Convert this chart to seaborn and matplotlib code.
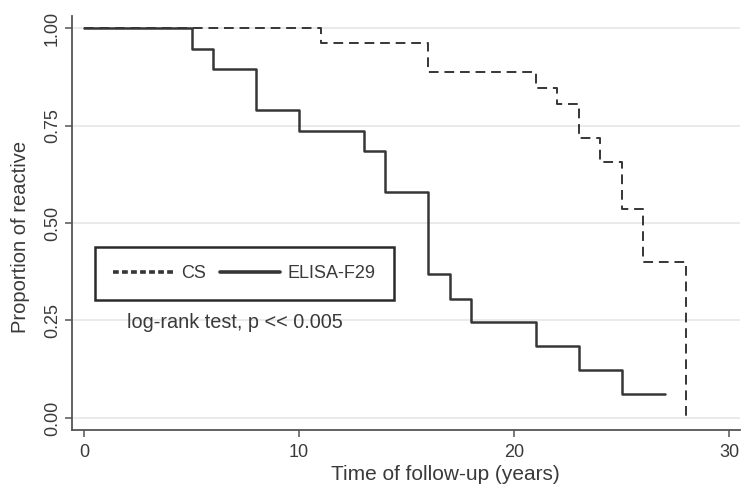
import matplotlib
matplotlib.use("Agg")
import matplotlib.pyplot as plt
import seaborn as sns
import pandas as pd

# Kaplan-Meier step data
elisa_time = [0, 5, 6, 8, 10, 13, 14, 16, 17, 18, 21, 23, 25, 27]
elisa_surv = [1.0, 0.947, 0.895, 0.789, 0.737, 0.684, 0.579, 0.368, 0.306, 0.245, 0.184, 0.122, 0.061, 0.061]
cs_time = [0, 11, 16, 21, 22, 23, 24, 25, 26, 28]
cs_surv = [1.0, 0.963, 0.888, 0.846, 0.804, 0.718, 0.656, 0.535, 0.40, 0.0]

x_ticks = [0, 10, 20, 30]
y_ticks = [0.00, 0.25, 0.50, 0.75, 1.00]
y_tick_labels = ["0.00", "0.25", "0.50", "0.75", "1.00"]

sns.set_theme(style="white")
plt.rcParams["font.family"] = ["Liberation Sans", "DejaVu Sans"]

W, H = 753, 490
fig = plt.figure(figsize=(W / 100, H / 100), dpi=100)
fig.patch.set_facecolor("white")
ax = fig.add_axes([72 / W, 1 - 430 / H, (740 - 72) / W, (430 - 16) / H])

df_cs = pd.DataFrame({"time": cs_time, "surv": cs_surv})
df_el = pd.DataFrame({"time": elisa_time, "surv": elisa_surv})

line_color = "#363636"
sns.lineplot(data=df_cs, x="time", y="surv", ax=ax, estimator=None, sort=False,
             drawstyle="steps-post", color=line_color, linewidth=1.4,
             linestyle=(0, (5.0, 3.0)), label="CS")
sns.lineplot(data=df_el, x="time", y="surv", ax=ax, estimator=None, sort=False,
             drawstyle="steps-post", color=line_color, linewidth=1.8,
             label="ELISA-F29")

ax.set_xlim(-0.56, 30.5)
ax.set_ylim(-0.031, 1.031)
ax.set_xticks(x_ticks)
ax.set_yticks(y_ticks)
ax.set_yticklabels(y_tick_labels, rotation=90, va="center")
for y in y_ticks:
    ax.axhline(y, color="#e6e6e6", linewidth=1.2, zorder=0)

for s in ["top", "right"]:
    ax.spines[s].set_visible(False)
for s in ["left", "bottom"]:
    ax.spines[s].set_color("#555555")
    ax.spines[s].set_linewidth(1.3)
ax.tick_params(axis="both", which="major", direction="out", length=5, width=1.1,
               color="#555555", labelsize=13, labelcolor="#3a3a3a", left=True, bottom=True)
ax.tick_params(axis="y", pad=3)
ax.tick_params(axis="x", pad=5)

ax.set_xlabel("")
ax.set_ylabel("")
fig.text(445 / W, 1 - 474 / H, "Time of follow-up (years)", ha="center", va="center",
         fontsize=15, color="#3a3a3a")
fig.text(21 / W, 1 - 237 / H, "Proportion of reactive", ha="center", va="center",
         rotation=90, fontsize=14.5, color="#3a3a3a")

leg = ax.legend(loc="upper left", bbox_to_anchor=(95 / W, 1 - 247 / H),
                bbox_transform=fig.transFigure, borderaxespad=0, ncol=2,
                fontsize=13, handlelength=3.3, handletextpad=0.45,
                columnspacing=0.8, borderpad=1.0, fancybox=False, framealpha=1,
                edgecolor="#2a2a2a")
leg.get_frame().set_linewidth(1.8)
for t in leg.get_texts():
    t.set_color("#3a3a3a")
leg_lines = leg.get_lines()
leg_lines[0].set_linewidth(2.6)
leg_lines[0].set_linestyle((0, (1.6, 0.9)))
leg_lines[1].set_linewidth(2.6)

ax.text(2.0, 0.245, "log-rank test, p << 0.005", ha="left", va="center",
        fontsize=14.3, color="#3a3a3a")

fig.savefig("out.png", dpi=100, facecolor="white")
